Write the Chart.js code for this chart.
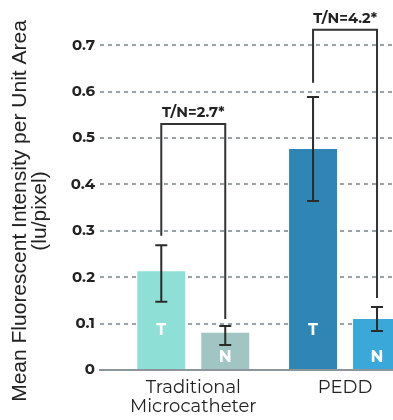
<!DOCTYPE html>
<html>
<head>
<meta charset="utf-8">
<script src="https://cdn.jsdelivr.net/npm/chart.js@4.4.1/dist/chart.umd.min.js"></script>
<style>
html,body{margin:0;padding:0;background:#fff;overflow:hidden;}
#wrap{position:relative;width:393px;height:420px;}
</style>
</head>
<body>
<div id="wrap"><canvas id="c" width="393" height="420"></canvas></div>
<script>
// ---- data ----
const categoryLabels = [['Traditional', 'Microcatheter'], ['PEDD']];
const tValues = [0.213, 0.476];
const nValues = [0.080, 0.110];
const tLow = [0.147, 0.364];
const tHigh = [0.269, 0.588];
const nLow = [0.054, 0.084];
const nHigh = [0.095, 0.136];
const ratioLabels = ['T/N=2.7*', 'T/N=4.2*'];
const bracketTop = [0.530, 0.733];
const bracketTBottom = [0.289, 0.619];
const bracketNBottom = [0.110, 0.155];
const yTickValues = [0, 0.1, 0.2, 0.3, 0.4, 0.5, 0.6, 0.7];
const tColors = ['#8edfd5', '#2f85b3'];
const nColors = ['#a0c5c2', '#3ba8da'];
const yTitleLines = ['Mean Fluorescent Intensity per Unit Area', '(lu/pixel)'];

const BOLD = '"Montserrat", "Inter", "Open Sans", sans-serif';

const tData = tValues.map((v, i) => ({x: i, y: v}));
const nData = nValues.map((v, i) => ({x: i, y: v}));

const overlay = {
  id: 'overlay',
  afterDatasetsDraw(chart) {
    const ctx = chart.ctx;
    const ys = chart.scales.y;
    const mT = chart.getDatasetMeta(0).data;
    const mN = chart.getDatasetMeta(1).data;
    ctx.save();
    // error bars
    ctx.strokeStyle = '#2b2b2b';
    ctx.lineWidth = 2;
    const err = (x, lo, hi) => {
      const y1 = ys.getPixelForValue(lo), y2 = ys.getPixelForValue(hi);
      ctx.beginPath();
      ctx.moveTo(x, y1); ctx.lineTo(x, y2);
      ctx.moveTo(x - 6, y1); ctx.lineTo(x + 6, y1);
      ctx.moveTo(x - 6, y2); ctx.lineTo(x + 6, y2);
      ctx.stroke();
    };
    for (let i = 0; i < tValues.length; i++) {
      err(mT[i].x, tLow[i], tHigh[i]);
      err(mN[i].x, nLow[i], nHigh[i]);
    }
    // in-bar letters
    ctx.fillStyle = '#ffffff';
    ctx.font = 'bold 16px ' + BOLD;
    ctx.textAlign = 'center';
    ctx.textBaseline = 'middle';
    const base = ys.getPixelForValue(0);
    for (let i = 0; i < tValues.length; i++) {
      ctx.fillText('T', mT[i].x, base - 40);
      ctx.fillText('N', mN[i].x, base - 13);
    }
    // brackets
    ctx.strokeStyle = '#333333';
    ctx.lineWidth = 2;
    for (let i = 0; i < tValues.length; i++) {
      const xt = mT[i].x, xn = mN[i].x;
      const yt = ys.getPixelForValue(bracketTop[i]);
      ctx.beginPath();
      ctx.moveTo(xt, ys.getPixelForValue(bracketTBottom[i]));
      ctx.lineTo(xt, yt);
      ctx.lineTo(xn, yt);
      ctx.lineTo(xn, ys.getPixelForValue(bracketNBottom[i]));
      ctx.stroke();
      ctx.fillStyle = '#222222';
      ctx.font = 'bold 14.5px ' + BOLD;
      ctx.textBaseline = 'alphabetic';
      ctx.fillText(ratioLabels[i], (xt + xn) / 2, yt - 7);
    }
    ctx.restore();
  },
  afterDraw(chart) {
    const ctx = chart.ctx;
    ctx.save();
    ctx.fillStyle = '#222222';
    ctx.font = '21px "Liberation Sans", Arial, sans-serif';
    ctx.textAlign = 'center';
    ctx.textBaseline = 'alphabetic';
    ctx.translate(26, 211);
    ctx.rotate(-Math.PI / 2);
    ctx.fillText(yTitleLines[0], 0, 0);
    ctx.fillText(yTitleLines[1], 0, 20);
    ctx.restore();
  }
};

new Chart(document.getElementById('c'), {
  type: 'bar',
  data: {
    datasets: [
      {label: 'T', data: tData, backgroundColor: tColors, borderWidth: 0},
      {label: 'N', data: nData, backgroundColor: nColors, borderWidth: 0}
    ]
  },
  options: {
    responsive: false,
    animation: false,
    devicePixelRatio: 1,
    categoryPercentage: 0.843,
    barPercentage: 0.75,
    layout: {padding: 0},
    plugins: {legend: {display: false}, tooltip: {enabled: false}},
    scales: {
      x: {
        type: 'linear',
        offset: false,
        min: -0.6145,
        max: 1.316,
        afterBuildTicks(s) { s.ticks = categoryLabels.map((_, i) => ({value: i})); },
        afterFit(s) { s.height = 50; },
        ticks: {
          autoSkip: false,
          maxRotation: 0,
          color: '#222222',
          padding: 9,
          font: {family: '"Montserrat", "Inter", "Open Sans", sans-serif', size: 18, lineHeight: 1.02},
          callback: (v) => categoryLabels[v]
        },
        grid: {display: false, drawTicks: false},
        border: {display: true, color: '#8c979d', width: 2}
      },
      y: {
        min: 0,
        max: 0.767,
        afterBuildTicks(s) { s.ticks = yTickValues.map(v => ({value: v})); },
        afterFit(s) { s.width = 100; },
        ticks: {
          color: '#222222',
          padding: 5,
          font: {family: BOLD, size: 15, weight: 'bold'},
          callback: (v) => v === 0 ? '0' : v.toFixed(1)
        },
        grid: {
          drawTicks: false,
          lineWidth: 2,
          color: (c) => (c.tick && c.tick.value === 0) ? 'rgba(0,0,0,0)' : '#9aa1a5'
        },
        border: {display: false, dash: [4, 4]}
      }
    }
  },
  plugins: [overlay]
});
</script>
</body>
</html>
